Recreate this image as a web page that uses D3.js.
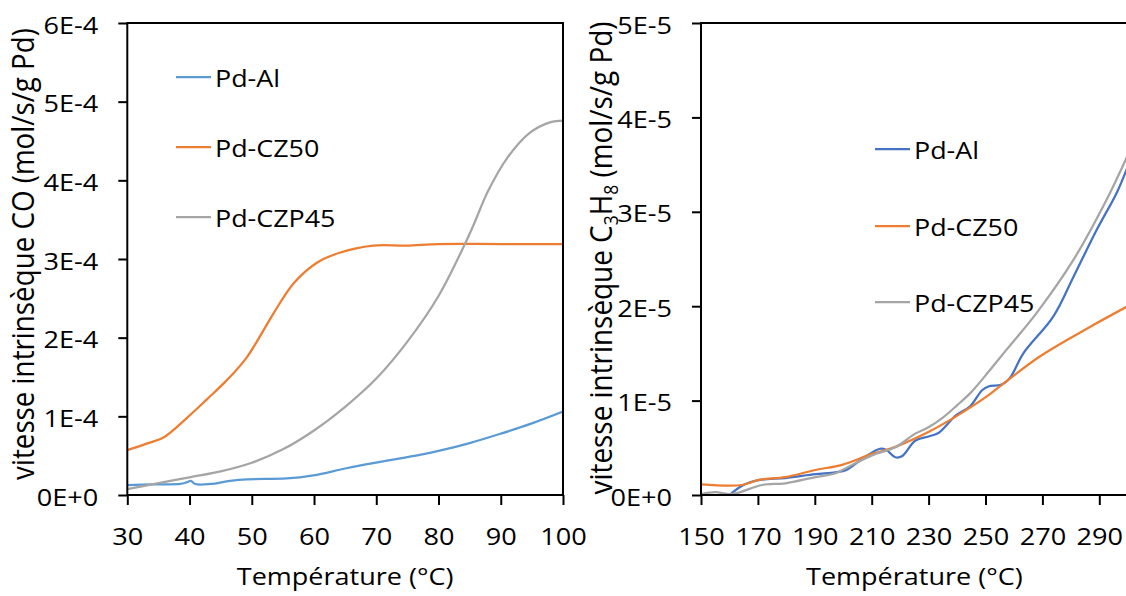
<!DOCTYPE html>
<html>
<head>
<meta charset="utf-8">
<script src="https://cdn.jsdelivr.net/npm/d3@7"></script>
<style>
  html, body { margin: 0; padding: 0; background: #fff; }
  svg { display: block; }
  text { font-family: "Open Sans", "Noto Sans", sans-serif; fill: #000; }
</style>
</head>
<body>
<svg id="chart" width="1126" height="596"></svg>
<script>
// ---------------- DATA ----------------
// Left panel: intrinsic CO rate vs temperature
const coTicksX = [30, 40, 50, 60, 70, 80, 90, 100];
const coTicksY = [0, 1e-4, 2e-4, 3e-4, 4e-4, 5e-4, 6e-4];
const coTickLabelsY = ["0E+0", "1E-4", "2E-4", "3E-4", "4E-4", "5E-4", "6E-4"];

const coAlT = [30, 34, 38.5, 39.5, 40.2, 40.9, 43.3, 46.5, 49.2, 55.6, 59.9, 65.2, 70.6, 77, 80, 85, 90, 95, 100];
const coAlV = [1.27e-5, 1.36e-5, 1.4e-5, 1.6e-5, 1.8e-5, 1.4e-5, 1.4e-5, 1.8e-5, 2.0e-5, 2.1e-5, 2.5e-5, 3.4e-5, 4.2e-5, 5.1e-5, 5.6e-5, 6.6e-5, 7.8e-5, 9.1e-5, 1.06e-4];

const coCZ50T = [30, 33, 35.8, 39.5, 42.7, 46, 49.2, 53.5, 56.7, 60.4, 64.1, 69.5, 74.8, 80, 90, 100];
const coCZ50V = [5.7e-5, 6.5e-5, 7.3e-5, 9.75e-5, 1.21e-4, 1.46e-4, 1.75e-4, 2.31e-4, 2.69e-4, 2.95e-4, 3.08e-4, 3.17e-4, 3.17e-4, 3.19e-4, 3.19e-4, 3.19e-4];

const coCZP45T = [30, 35, 40, 45, 50, 55, 60, 65, 70, 75, 80, 85, 88, 91, 94.6, 98, 100];
const coCZP45V = [7.6e-6, 1.5e-5, 2.25e-5, 3.0e-5, 4.1e-5, 5.8e-5, 8.2e-5, 1.12e-4, 1.48e-4, 1.95e-4, 2.53e-4, 3.32e-4, 3.87e-4, 4.28e-4, 4.6e-4, 4.74e-4, 4.76e-4];

// Right panel: intrinsic C3H8 rate vs temperature
const hcTicksX = [150, 170, 190, 210, 230, 250, 270, 290];
const hcTicksY = [0, 1e-5, 2e-5, 3e-5, 4e-5, 5e-5];
const hcTickLabelsY = ["0E+0", "1E-5", "2E-5", "3E-5", "4E-5", "5E-5"];

const hcAlT = [160, 164.9, 170.7, 179.7, 190.2, 197.3, 201.1, 207, 212.9, 215, 218.3, 220.6, 225.3, 230, 233.6, 239.5, 244.6, 248.8, 251, 255.7, 258.6, 263.3, 273.8, 280.9, 289.1, 296.1, 300];
const hcAlV = [0, 1.06e-6, 1.6e-6, 1.8e-6, 2.2e-6, 2.4e-6, 2.65e-6, 3.9e-6, 4.9e-6, 4.8e-6, 4.0e-6, 4.1e-6, 5.75e-6, 6.2e-6, 6.6e-6, 8.4e-6, 9.4e-6, 1.11e-5, 1.15e-5, 1.17e-5, 1.24e-5, 1.5e-5, 1.89e-5, 2.31e-5, 2.81e-5, 3.2e-5, 3.48e-5];

const hcCZ50T = [150, 164.4, 170.3, 179.7, 190.2, 199.6, 210.1, 218.3, 230.1, 239.5, 251.2, 255, 269.2, 286.7, 300];
const hcCZ50V = [1.13e-6, 1.06e-6, 1.6e-6, 1.9e-6, 2.65e-6, 3.2e-6, 4.35e-6, 5.1e-6, 6.7e-6, 8.3e-6, 1.06e-5, 1.15e-5, 1.47e-5, 1.78e-5, 2.0e-5];

const hcCZP45T = [150, 155, 161, 171.5, 179.7, 190.2, 197.3, 201.9, 210.1, 218.3, 225.3, 230.1, 235, 240, 245, 251.2, 257.4, 268, 280.9, 292.6, 300];
const hcCZP45V = [1e-7, 3e-7, 1e-7, 1.06e-6, 1.24e-6, 1.9e-6, 2.3e-6, 3.0e-6, 4.2e-6, 5.05e-6, 6.5e-6, 7.2e-6, 8.2e-6, 9.5e-6, 1.09e-5, 1.31e-5, 1.54e-5, 1.93e-5, 2.49e-5, 3.13e-5, 3.6e-5];

const seriesNames = ["Pd-Al", "Pd-CZ50", "Pd-CZP45"];
const xTitle = "Température (°C)";

// ---------------- DRAW ----------------
const svg = d3.select("#chart");
const FONT = 24;

function stretch(sel, f) {
  sel.each(function () {
    const l = this.getComputedTextLength();
    this.setAttribute("textLength", (l * f).toFixed(2));
    this.setAttribute("lengthAdjust", "spacingAndGlyphs");
  });
}

function panel(cfg) {
  const g = svg.append("g");
  const x = d3.scaleLinear().domain(cfg.xDomain).range(cfg.xRange);
  const y = d3.scaleLinear().domain(cfg.yDomain).range([495, 23]);

  const clipId = "clip" + cfg.id;
  g.append("clipPath").attr("id", clipId).append("rect")
    .attr("x", cfg.xRange[0]).attr("y", 23)
    .attr("width", cfg.xRange[1] - cfg.xRange[0]).attr("height", 472);

  // series
  const line = d3.line().x(d => x(d[0])).y(d => y(d[1])).curve(d3.curveCatmullRom.alpha(0.5));
  cfg.series.forEach(s => {
    const pts = s.t.map((t, i) => [t, s.v[i]]);
    g.append("path").datum(pts)
      .attr("clip-path", `url(#${clipId})`)
      .attr("fill", "none").attr("stroke", s.color)
      .attr("stroke-width", 2.25).attr("stroke-linejoin", "round")
      .attr("d", line);
  });

  // frame
  g.append("rect")
    .attr("x", cfg.xRange[0]).attr("y", 23)
    .attr("width", cfg.xRange[1] - cfg.xRange[0]).attr("height", 472)
    .attr("fill", "none").attr("stroke", "#000").attr("stroke-width", 2);

  // axes
  const yAxis = d3.axisLeft(y).tickValues(cfg.yTicks)
    .tickFormat((d, i) => cfg.yLabels[i]).tickSize(9).tickPadding(20);
  const ya = g.append("g").attr("transform", `translate(${cfg.xRange[0]},0)`).call(yAxis);
  ya.select(".domain").remove();
  ya.selectAll(".tick line").attr("stroke", "#000").attr("stroke-width", 2);
  ya.selectAll("text").attr("font-size", FONT).attr("font-family", "Open Sans")
    .attr("dy", "0.42em").attr("fill", "#000");
  stretch(ya.selectAll("text"), 1.13);

  const xAxis = d3.axisBottom(x).tickValues(cfg.xTicks).tickSize(10).tickPadding(0);
  const xa = g.append("g").attr("transform", "translate(0,495)").call(xAxis);
  xa.select(".domain").remove();
  xa.selectAll(".tick line").attr("stroke", "#000").attr("stroke-width", 2);
  xa.selectAll("text").attr("font-size", FONT).attr("font-family", "Open Sans")
    .attr("y", 50).attr("dy", 0).attr("fill", "#000");
  stretch(xa.selectAll("text"), 1.13);

  // x title
  const xt = g.append("text")
    .attr("x", (cfg.xRange[0] + Math.min(cfg.xRange[1], 1128)) / 2)
    .attr("y", 585).attr("text-anchor", "middle")
    .attr("font-size", FONT).text(xTitle);
  stretch(xt, 1.125);

  // y title
  const yt = g.append("text").attr("text-anchor", "middle").attr("font-size", 27);
  cfg.yTitle(yt);
  const L = yt.node().getComputedTextLength();
  const sy = cfg.yTitleLen / L;
  yt.attr("transform", `translate(${cfg.yTitleX},${cfg.yTitleY}) scale(1.12,${sy.toFixed(4)}) rotate(-90)`);

  // legend
  cfg.series.forEach((s, i) => {
    const ly = cfg.legendY[i];
    g.append("line")
      .attr("x1", cfg.legendX).attr("x2", cfg.legendX + 35)
      .attr("y1", ly).attr("y2", ly)
      .attr("stroke", s.color).attr("stroke-width", 2.25);
    const t = g.append("text").attr("x", cfg.legendX + 39).attr("y", ly + 10)
      .attr("font-size", FONT).text(seriesNames[i]);
    stretch(t, 1.12);
  });
}

panel({
  id: "L",
  xDomain: [30, 100], xRange: [127.3, 563],
  yDomain: [0, 6e-4],
  xTicks: coTicksX, yTicks: coTicksY, yLabels: coTickLabelsY,
  series: [
    { t: coAlT, v: coAlV, color: "#5B9BD5" },
    { t: coCZ50T, v: coCZ50V, color: "#ED7D31" },
    { t: coCZP45T, v: coCZP45V, color: "#A5A5A5" }
  ],
  yTitle: sel => sel.text("vitesse intrinsèque CO (mol/s/g Pd)"),
  yTitleX: 34, yTitleY: 254, yTitleLen: 452,
  legendX: 176, legendY: [77, 147, 217]
});

panel({
  id: "R",
  xDomain: [150, 300], xRange: [701, 1127.75],
  yDomain: [0, 5e-5],
  xTicks: hcTicksX, yTicks: hcTicksY, yLabels: hcTickLabelsY,
  series: [
    { t: hcAlT, v: hcAlV, color: "#4472C4" },
    { t: hcCZ50T, v: hcCZ50V, color: "#ED7D31" },
    { t: hcCZP45T, v: hcCZP45V, color: "#A5A5A5" }
  ],
  yTitle: sel => {
    sel.append("tspan").text("vitesse intrinsèque C");
    sel.append("tspan").attr("font-size", 17).attr("dy", 5).text("3");
    sel.append("tspan").attr("dy", -5).text("H");
    sel.append("tspan").attr("font-size", 17).attr("dy", 5).text("8");
    sel.append("tspan").attr("dy", -5).text(" (mol/s/g Pd)");
  },
  yTitleX: 612, yTitleY: 258, yTitleLen: 473,
  legendX: 875, legendY: [149, 226, 302]
});
</script>
</body>
</html>
